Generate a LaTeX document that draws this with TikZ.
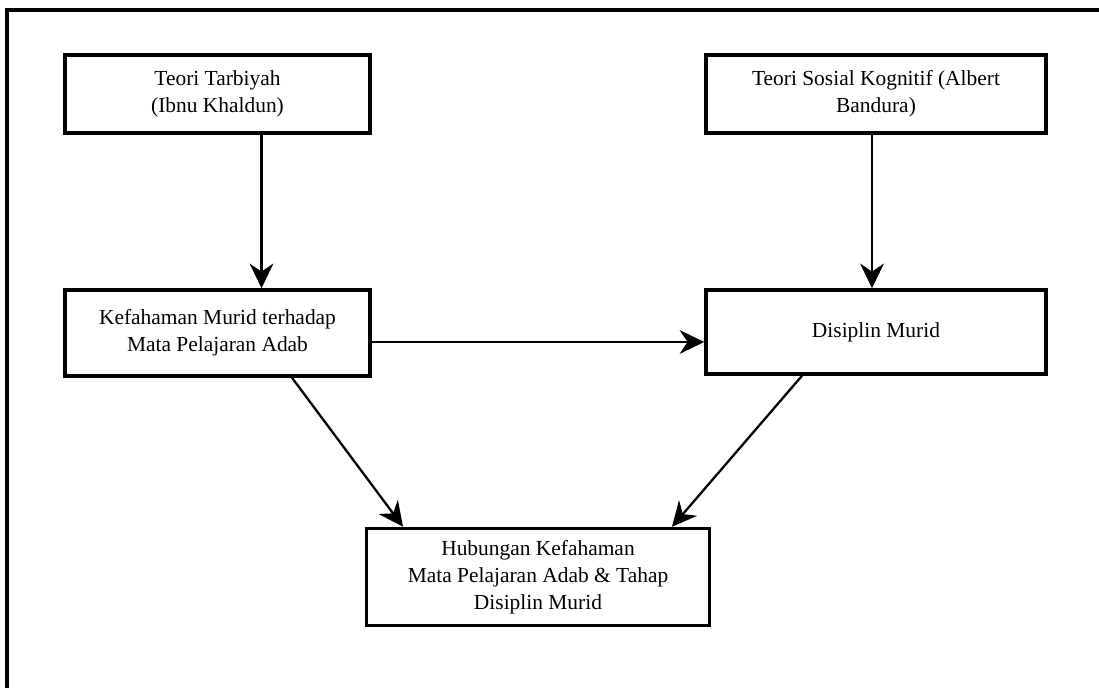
\documentclass[tikz,border=0pt]{standalone}
\usepackage{fontspec}
\setmainfont{Liberation Serif}
\usetikzlibrary{arrows.meta,positioning}
\tikzset{
  framebox/.style={draw, line width=2pt, align=center, font=\fontsize{12.2}{15.5}\selectfont, inner sep=2pt},
  arr/.style={line width=1.3pt, -{Stealth[length=14pt, width=13.5pt, inset=4.5pt]}},
}

\begin{document}
\begin{tikzpicture}[x=0.02cm, y=0.02cm]
    \useasboundingbox (0,0) rectangle (1099,688);
    % outer frame (top and left side only)
    \draw[line width=2.3pt] (7,0) -- (7,678) -- (1099,678);
    % theories
    \node[framebox, minimum width=6.1cm, minimum height=1.56cm] (tarbiyah) at (217.5,594)
        {Teori Tarbiyah\\(Ibnu Khaldun)};
    \node[framebox, minimum width=6.8cm, minimum height=1.56cm] (sosial) at (876,594)
        {Teori Sosial Kognitif (Albert\\Bandura)};
    % variables
    \node[framebox, minimum width=6.1cm, minimum height=1.72cm] (kefahaman) at (217.5,355)
        {Kefahaman Murid terhadap\\Mata Pelajaran Adab};
    \node[framebox, minimum width=6.8cm, minimum height=1.68cm] (disiplin) at (876,356)
        {Disiplin Murid};
    % outcome
    \node[framebox, minimum width=6.86cm, minimum height=1.94cm] (hubungan) at (538,111)
        {Hubungan Kefahaman\\Mata Pelajaran Adab \& Tahap\\Disiplin Murid};
    % connectors
    \draw[arr] ([xshift=0.88cm]tarbiyah.south) -- ([xshift=0.88cm]kefahaman.north);
    \draw[arr] ([xshift=-0.08cm]sosial.south) -- ([xshift=-0.08cm]disiplin.north);
    \draw[arr] ([yshift=-0.18cm]kefahaman.east) coordinate (hstart) -- (hstart -| disiplin.west);
    \draw[arr] ([xshift=1.49cm]kefahaman.south) -- ([xshift=-2.7cm]hubungan.north);
    \draw[arr] ([xshift=-1.48cm]disiplin.south) -- ([xshift=2.68cm]hubungan.north);
\end{tikzpicture}
\end{document}
